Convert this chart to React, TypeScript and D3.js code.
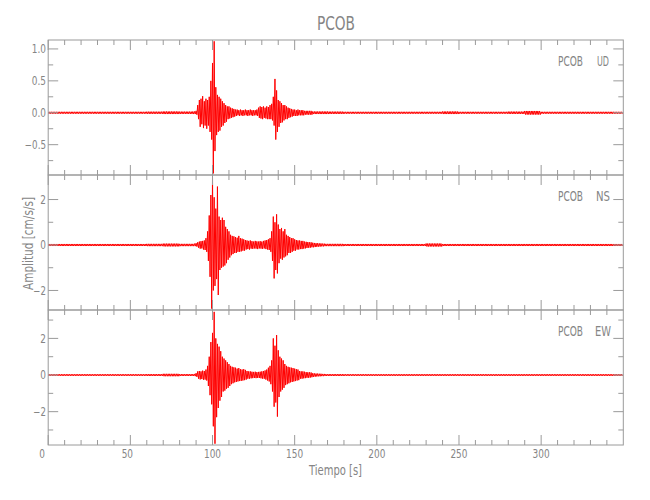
import React from "react";
import * as d3 from "d3";

// ---------- data ----------
const TITLE = "PCOB";
const STATION = "PCOB";
const COMPONENTS = ["UD", "NS", "EW"];
const X_TICKS = [0, 50, 100, 150, 200, 250, 300];
const X_DOMAIN = [0, 350];

// y-axis ranges of each panel
const Y_DOMAINS = [
  [-0.975, 1.14],
  [-2.86, 3.08],
  [-3.82, 3.55],
];
const Y_MAJOR = [
  [-0.5, 0, 0.5, 1.0],
  [-2, 0, 2],
  [-2, 0, 2],
];
const Y_MINOR = [
  [-0.75, -0.25, 0.25, 0.75],
  [-1, 1],
  [-3, -1, 1, 3],
];
const Y_LABEL_DECIMALS = [1, 0, 0];

// Active window: per-second max / min amplitude, t = 88 .. 170 s
const ACTIVE_START = 88;
const UD_HI = [
  0.02, 0.02, 0.03, 0.12, 0.2, 0.22, 0.26, 0.18, 0.22, 0.2,
  0.25, 0.5, 0.78, 1.12, 0.4, 0.28, 0.25, 0.22, 0.18, 0.15,
  0.12, 0.1, 0.1, 0.08, 0.07, 0.06, 0.05, 0.05, 0.04, 0.05,
  0.04, 0.04, 0.05, 0.04, 0.04, 0.05, 0.04, 0.04, 0.04, 0.05,
  0.08, 0.1, 0.09, 0.1, 0.08, 0.1, 0.09, 0.12, 0.14, 0.25,
  0.53, 0.35, 0.2, 0.18, 0.15, 0.12, 0.12, 0.1, 0.08, 0.07,
  0.06, 0.05, 0.05, 0.04, 0.05, 0.04, 0.04, 0.04, 0.03, 0.03,
  0.03, 0.03, 0.03, 0.02, 0.02, 0.02, 0.02, 0.02, 0.02, 0.02,
  0.02, 0.02, 0.02,
];
const UD_LO = [
  -0.02, -0.02, -0.03, -0.1, -0.22, -0.18, -0.24, -0.2, -0.25, -0.2,
  -0.3, -0.42, -0.95, -0.6, -0.35, -0.3, -0.28, -0.22, -0.2, -0.16,
  -0.14, -0.1, -0.09, -0.08, -0.07, -0.06, -0.05, -0.04, -0.05, -0.04,
  -0.05, -0.04, -0.04, -0.05, -0.04, -0.04, -0.05, -0.04, -0.04, -0.05,
  -0.08, -0.09, -0.1, -0.08, -0.09, -0.1, -0.1, -0.1, -0.12, -0.2,
  -0.42, -0.3, -0.22, -0.16, -0.15, -0.12, -0.1, -0.1, -0.08, -0.07,
  -0.06, -0.05, -0.05, -0.05, -0.04, -0.04, -0.04, -0.04, -0.03, -0.03,
  -0.03, -0.03, -0.03, -0.02, -0.02, -0.02, -0.02, -0.02, -0.02, -0.02,
  -0.02, -0.02, -0.02,
];
const NS_HI = [
  0.05, 0.06, 0.08, 0.12, 0.15, 0.17, 0.18, 0.2, 0.3, 0.6,
  1.3, 2.2, 3.05, 2.1, 1.6, 2.57, 1.25, 1.1, 1.2, 1.1,
  0.8, 0.7, 0.6, 0.45, 0.4, 0.38, 0.35, 0.32, 0.4, 0.3,
  0.28, 0.25, 0.22, 0.2, 0.18, 0.2, 0.17, 0.15, 0.18, 0.16,
  0.15, 0.17, 0.15, 0.18, 0.2, 0.22, 0.25, 0.3, 0.6, 1.25,
  1.0, 1.35, 0.9, 0.7, 0.75, 0.6, 0.7, 0.45, 0.4, 0.35,
  0.3, 0.3, 0.25, 0.22, 0.2, 0.2, 0.18, 0.18, 0.15, 0.14,
  0.13, 0.12, 0.12, 0.1, 0.09, 0.08, 0.08, 0.07, 0.07, 0.06,
  0.06, 0.05, 0.05,
];
const NS_LO = [
  -0.05, -0.05, -0.07, -0.12, -0.16, -0.15, -0.2, -0.22, -0.3, -0.7,
  -1.4, -2.8, -2.0, -1.8, -1.5, -2.2, -1.1, -1.0, -0.95, -0.9,
  -0.8, -0.65, -0.55, -0.45, -0.4, -0.35, -0.35, -0.3, -0.3, -0.28,
  -0.25, -0.25, -0.2, -0.18, -0.2, -0.16, -0.17, -0.15, -0.16, -0.18,
  -0.15, -0.16, -0.17, -0.15, -0.18, -0.2, -0.22, -0.3, -0.7, -1.47,
  -1.1, -1.25, -0.8, -0.6, -0.65, -0.55, -0.5, -0.45, -0.35, -0.35,
  -0.3, -0.25, -0.25, -0.2, -0.2, -0.18, -0.18, -0.16, -0.15, -0.13,
  -0.12, -0.12, -0.1, -0.1, -0.09, -0.08, -0.07, -0.07, -0.06, -0.06,
  -0.05, -0.05, -0.05,
];
const EW_HI = [
  0.05, 0.06, 0.1, 0.2, 0.22, 0.2, 0.24, 0.22, 0.3, 0.5,
  1.0, 1.8, 2.3, 3.45, 2.0, 1.7, 1.55, 1.3, 1.0, 0.9,
  0.8, 0.7, 0.6, 0.5, 0.45, 0.42, 0.4, 0.35, 0.38, 0.32,
  0.3, 0.32, 0.28, 0.22, 0.2, 0.2, 0.18, 0.17, 0.18, 0.16,
  0.17, 0.18, 0.2, 0.22, 0.25, 0.3, 0.4, 0.5, 0.8, 2.0,
  1.6, 2.18, 1.35, 1.0, 0.9, 0.8, 0.6, 0.5, 0.45, 0.42,
  0.4, 0.38, 0.35, 0.32, 0.3, 0.22, 0.2, 0.2, 0.18, 0.16,
  0.15, 0.15, 0.14, 0.1, 0.09, 0.08, 0.08, 0.07, 0.07, 0.06,
  0.06, 0.05, 0.05,
];
const EW_LO = [
  -0.05, -0.06, -0.1, -0.2, -0.24, -0.22, -0.26, -0.25, -0.3, -0.6,
  -1.1, -1.6, -2.8, -3.75, -2.3, -1.8, -1.4, -1.2, -0.9, -0.85,
  -0.75, -0.7, -0.6, -0.5, -0.45, -0.4, -0.38, -0.35, -0.33, -0.32,
  -0.3, -0.28, -0.25, -0.2, -0.2, -0.18, -0.17, -0.16, -0.17, -0.16,
  -0.16, -0.18, -0.2, -0.2, -0.25, -0.3, -0.35, -0.5, -0.9, -1.73,
  -1.5, -2.27, -1.2, -0.9, -0.8, -0.7, -0.55, -0.5, -0.45, -0.4,
  -0.38, -0.35, -0.33, -0.3, -0.28, -0.2, -0.2, -0.18, -0.17, -0.15,
  -0.15, -0.14, -0.12, -0.1, -0.09, -0.08, -0.07, -0.07, -0.06, -0.06,
  -0.05, -0.05, -0.05,
];

// Quiet parts: noise amplitude per 10 s window (0-10, 10-20, ... 340-350)
const UD_NOISE = [
  0.015, 0.015, 0.015, 0.015, 0.015, 0.015, 0.017, 0.02, 0.018, 0.018,
  0.018, 0.018, 0.018, 0.018, 0.018, 0.018, 0.018, 0.018, 0.015, 0.015,
  0.015, 0.015, 0.015, 0.015, 0.02, 0.015, 0.015, 0.015, 0.018, 0.028,
  0.015, 0.015, 0.015, 0.015, 0.015,
];
const NS_NOISE = [
  0.045, 0.045, 0.045, 0.045, 0.045, 0.045, 0.05, 0.06, 0.05, 0.05,
  0.05, 0.05, 0.05, 0.05, 0.05, 0.05, 0.05, 0.05, 0.045, 0.045,
  0.045, 0.045, 0.045, 0.065, 0.045, 0.045, 0.045, 0.045, 0.045, 0.045,
  0.045, 0.045, 0.045, 0.045, 0.045,
];
const EW_NOISE = [
  0.045, 0.045, 0.045, 0.045, 0.045, 0.045, 0.05, 0.065, 0.05, 0.05,
  0.05, 0.05, 0.05, 0.05, 0.05, 0.05, 0.05, 0.05, 0.045, 0.045,
  0.045, 0.045, 0.045, 0.045, 0.045, 0.045, 0.045, 0.045, 0.045, 0.045,
  0.045, 0.045, 0.045, 0.045, 0.045,
];

const SERIES = [
  { hi: UD_HI, lo: UD_LO, noise: UD_NOISE },
  { hi: NS_HI, lo: NS_LO, noise: NS_NOISE },
  { hi: EW_HI, lo: EW_LO, noise: EW_NOISE },
];

// ---------- layout ----------
const W = 650;
const H = 500;
const LEFT = 48.2;
const RIGHT = 623.3;
const PANEL_TOPS = [40, 175, 310];
const PANEL_H = 135;
const AXIS = "#9a9a9a";
const TEXT = "#858585";
const FONT = "'DejaVu Sans', sans-serif";

const charW = (s: string) => {
  let w = 0;
  for (const c of s) w += c === "." ? 2.8 : c === "\u2212" ? 7 : 5.7;
  return w;
};

function buildPoints(idx: number) {
  const s = SERIES[idx];
  const pts: [number, number][] = [];
  const end = ACTIVE_START + s.hi.length - 1;
  for (let t = 0; t < 350; t++) {
    let hi: number, lo: number;
    if (t >= ACTIVE_START && t <= end) {
      hi = s.hi[t - ACTIVE_START];
      lo = s.lo[t - ACTIVE_START];
    } else {
      const n = s.noise[Math.floor(t / 10)];
      hi = n;
      lo = -n;
    }
    pts.push([t, hi]);
    pts.push([t + 0.5, lo]);
  }
  return pts;
}

const textStyle = { fontFamily: FONT, fill: TEXT } as const;

export default function App() {
  const x = d3.scaleLinear().domain(X_DOMAIN).range([LEFT, RIGHT]);
  const xMinor = d3.range(0, 351, 10).filter((v) => v % 50 !== 0);

  return (
    <svg width={W} height={H} style={{ display: "block", position: "absolute", left: 0, top: 0, background: "#fff" }}>
      <defs>
        {PANEL_TOPS.map((top, i) => (
          <clipPath id={`clip${i}`} key={i}>
            <rect x={LEFT} y={top} width={RIGHT - LEFT} height={PANEL_H} />
          </clipPath>
        ))}
      </defs>
      <text x={336} y={30} {...textStyle} fontSize={20} textAnchor="middle" textLength={38} lengthAdjust="spacingAndGlyphs">
        {TITLE}
      </text>
      {PANEL_TOPS.map((top, i) => {
        const bottom = top + PANEL_H;
        const y = d3.scaleLinear().domain(Y_DOMAINS[i]).range([bottom, top]);
        const line = d3
          .line<[number, number]>()
          .x((d) => x(d[0]))
          .y((d) => y(d[1]));
        const pts = buildPoints(i);
        const comp = COMPONENTS[i];
        return (
          <g key={i}>
            <path d={line(pts) || ""} fill="none" stroke="#ff0000" strokeWidth={1} clipPath={`url(#clip${i})`} />
            <rect x={LEFT} y={top} width={RIGHT - LEFT} height={PANEL_H} fill="none" stroke={AXIS} strokeWidth={1} />
            {X_TICKS.map((v) => (
              <g key={`xm${v}`}>
                <line x1={x(v)} x2={x(v)} y1={bottom} y2={bottom - 10} stroke={AXIS} />
                <line x1={x(v)} x2={x(v)} y1={top} y2={top + 10} stroke={AXIS} />
              </g>
            ))}
            {xMinor.map((v) => (
              <g key={`xn${v}`}>
                <line x1={x(v)} x2={x(v)} y1={bottom} y2={bottom - 5} stroke={AXIS} />
                <line x1={x(v)} x2={x(v)} y1={top} y2={top + 5} stroke={AXIS} />
              </g>
            ))}
            {Y_MAJOR[i].map((v) => {
              const label = (v < 0 ? "\u2212" : "") + Math.abs(v).toFixed(Y_LABEL_DECIMALS[i]);
              return (
                <g key={`ym${v}`}>
                  <line x1={LEFT} x2={LEFT + 10} y1={y(v)} y2={y(v)} stroke={AXIS} />
                  <line x1={RIGHT} x2={RIGHT - 10} y1={y(v)} y2={y(v)} stroke={AXIS} />
                  <text x={46} y={y(v) + 4.3} {...textStyle} fontSize={11.5} textAnchor="end" textLength={charW(label)} lengthAdjust="spacingAndGlyphs">
                    {label}
                  </text>
                </g>
              );
            })}
            {Y_MINOR[i].map((v) => (
              <g key={`yn${v}`}>
                <line x1={LEFT} x2={LEFT + 5} y1={y(v)} y2={y(v)} stroke={AXIS} />
                <line x1={RIGHT} x2={RIGHT - 5} y1={y(v)} y2={y(v)} stroke={AXIS} />
              </g>
            ))}
            <text x={558} y={top + 26} {...textStyle} fontSize={13.5} textLength={25} lengthAdjust="spacingAndGlyphs">
              {STATION}
            </text>
            <text x={comp === "UD" ? 597 : comp === "NS" ? 596 : 595} y={top + 26} {...textStyle} fontSize={13.5} textLength={comp === "UD" ? 12 : comp === "NS" ? 14 : 16} lengthAdjust="spacingAndGlyphs">
              {comp}
            </text>
          </g>
        );
      })}
      {X_TICKS.map((v) => (
        <text key={`xl${v}`} x={x(v) - (v === 0 ? 6 : v === 50 ? 3 : 0)} y={458} {...textStyle} fontSize={11.5} textAnchor="middle" textLength={charW(String(v))} lengthAdjust="spacingAndGlyphs">
          {v}
        </text>
      ))}
      <text x={335.5} y={475} {...textStyle} fontSize={13.5} textAnchor="middle" textLength={53} lengthAdjust="spacingAndGlyphs">
        Tiempo [s]
      </text>
      <text transform="translate(33,243.5) rotate(-90)" {...textStyle} fontSize={13.5} textAnchor="middle" textLength={93} lengthAdjust="spacingAndGlyphs">
        Amplitud [cm/s/s]
      </text>
    </svg>
  );
}
